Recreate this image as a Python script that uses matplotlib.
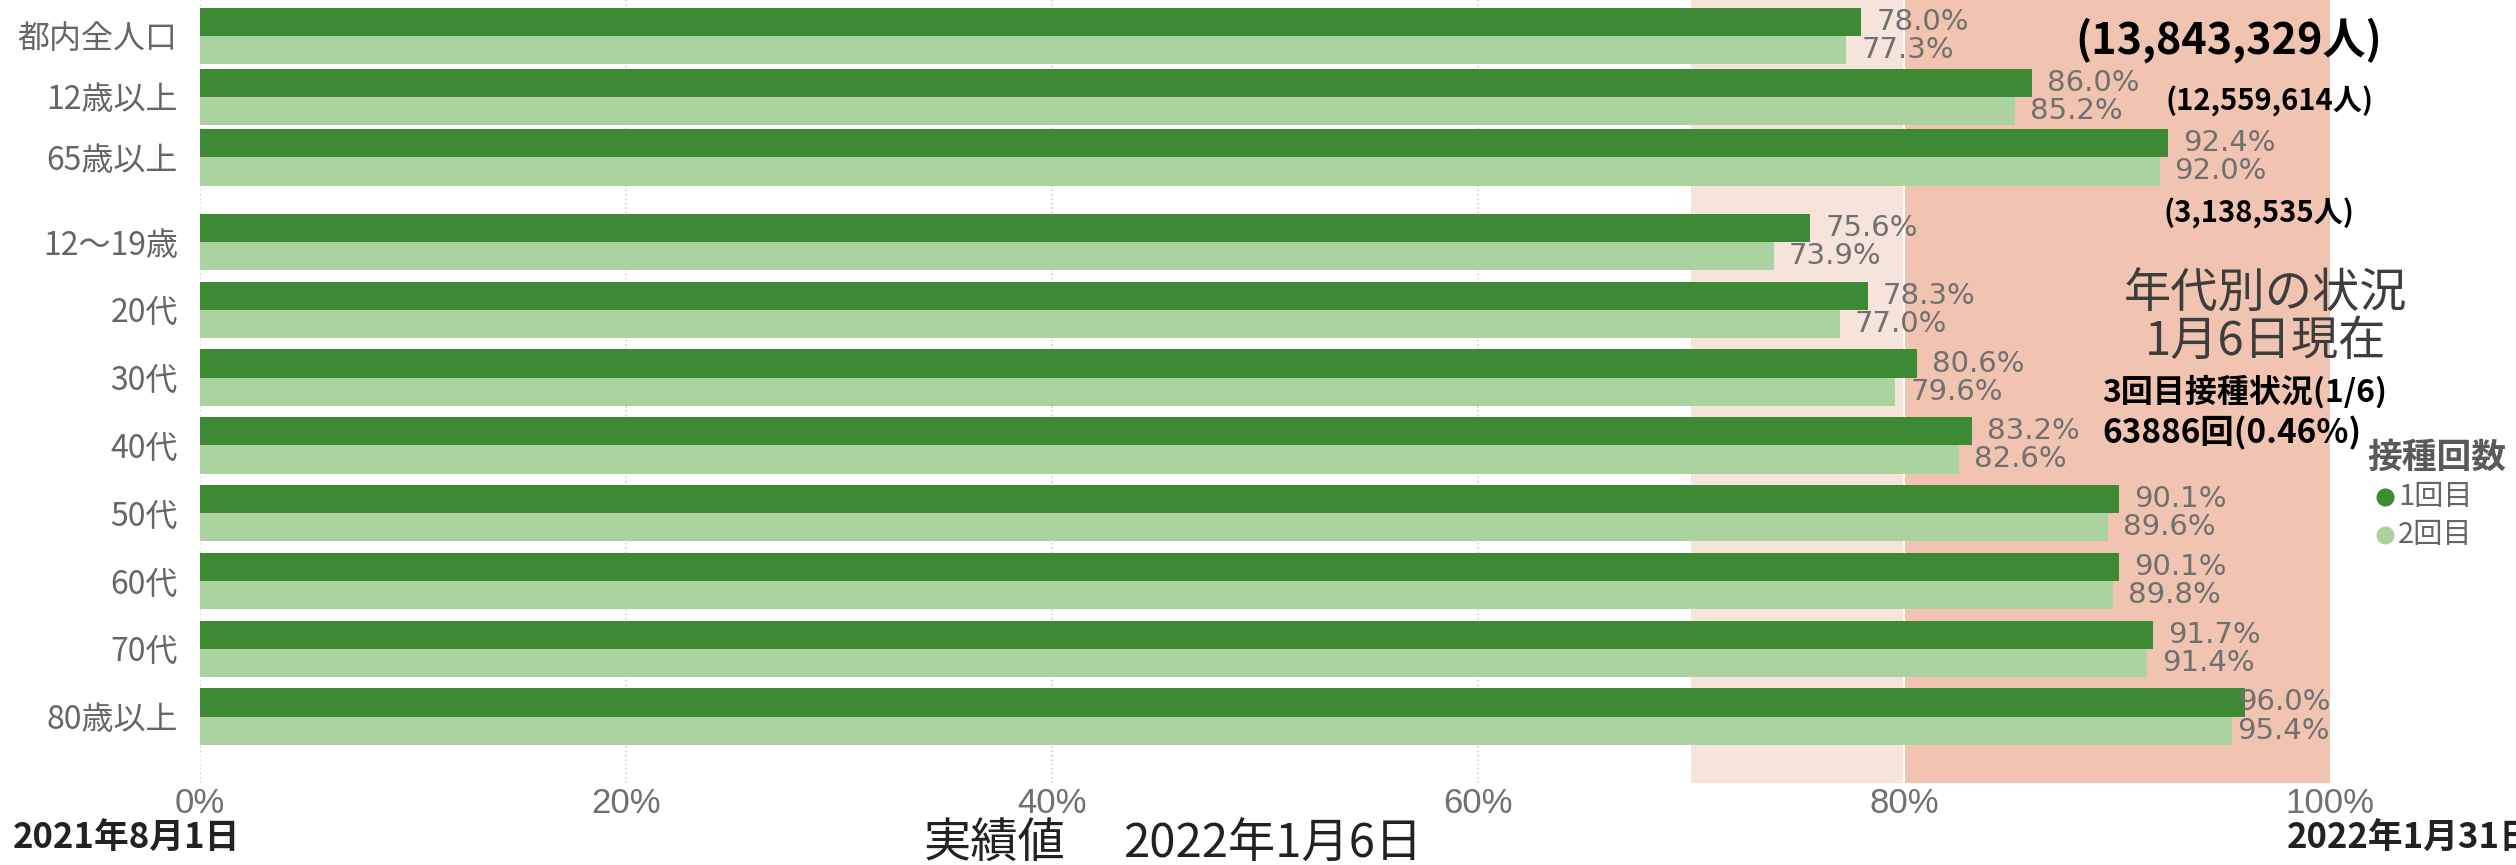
import matplotlib.pyplot as plt
import numpy as np

plt.rcParams['font.family'] = ['Noto Sans CJK JP', 'DejaVu Sans']

# overall (top block) and by age (bottom block)
top_cats = ['都内全人口', '12歳以上', '65歳以上']
top_dose1 = [78.0, 86.0, 92.4]
top_dose2 = [77.3, 85.2, 92.0]

age_cats = ['12〜19歳', '20代', '30代', '40代', '50代', '60代', '70代', '80歳以上']
age_dose1 = [75.6, 78.3, 80.6, 83.2, 90.1, 90.1, 91.7, 96.0]
age_dose2 = [73.9, 77.0, 79.6, 82.6, 89.6, 89.8, 91.4, 95.4]

x_ticks = [0, 20, 40, 60, 80, 100]
pop_notes = ['(13,843,329人)', '(12,559,614人)', '(3,138,535人)']

DARK = '#3E8A34'
LIGHT = '#ABD3A0'
PINK = '#F6E3DA'
SALMON = '#F0C4B1'
GREY = '#707070'

W, H = 2516, 865
fig = plt.figure(figsize=(W / 100, H / 100), dpi=100)
ax = fig.add_axes([200 / W, 1 - 783 / H, 2130 / W, 783 / H])

# group centres: top block is a bit tighter than the age block
y_top = np.arange(len(top_cats)) * 0.896
y_age = 3.04 + np.arange(len(age_cats))
ypos = np.concatenate([y_top, y_age])
cats = top_cats + age_cats
d1 = np.array(top_dose1 + age_dose1)
d2 = np.array(top_dose2 + age_dose2)
bh = 0.415

ax.axvspan(70, 80, color=PINK, zorder=0, lw=0)
ax.axvspan(80, 100, color=SALMON, zorder=0, lw=0)
for t in x_ticks:
    ax.axvline(t, color='#cfcfcf', ls=':', lw=1.2, zorder=0.5)
ax.axvline(80, color='white', lw=1.5, zorder=0.6)

ax.barh(ypos - bh / 2, d1, height=bh, color=DARK, zorder=2)
ax.barh(ypos + bh / 2, d2, height=bh, color=LIGHT, zorder=2)

for y, a, b in zip(ypos, d1, d2):
    for v, yy in ((a, y - bh / 2), (b, y + bh / 2)):
        txt = f'{v:.1f}%'
        # labels that would run past 100% are pulled back inside
        if v + 0.7 + 5.0 > 100:
            ax.text(100, yy, txt, ha='right', va='center', fontsize=21,
                    color=GREY, family='DejaVu Sans', zorder=3)
        else:
            ax.text(v + 0.7, yy, txt, ha='left', va='center', fontsize=21,
                    color=GREY, family='DejaVu Sans', zorder=3)

ax.set_xlim(0, 100)
ax.set_ylim(11.02, -0.53)
ax.set_xticks(x_ticks, [f'{t}%' for t in x_ticks])
ax.set_yticks(ypos, cats)
ax.tick_params(axis='x', length=0, pad=3, labelsize=25, labelcolor=GREY)
ax.tick_params(axis='y', length=0, pad=16, labelsize=23, labelcolor='#666666')
for lab in ax.get_xticklabels():
    lab.set_family('Liberation Sans')
for s in ax.spines.values():
    s.set_visible(False)


def ftext(x, y, s, **kw):
    fig.text(x / W, 1 - y / H, s, **kw)


# notes in the salmon area
ftext(2075, 40, pop_notes[0], fontsize=31, weight='bold', va='center', color='black')
ftext(2166, 101, pop_notes[1], fontsize=21, weight='bold', va='center', color='black')
ftext(2163, 213, pop_notes[2], fontsize=21, weight='bold', va='center', color='black')
ftext(2266, 318, '年代別の状況\n1月6日現在', fontsize=34, ha='center', va='center',
      multialignment='center', linespacing=0.95, color='#3d3d3d')
ftext(2102, 392, '3回目接種状況(1/6)', fontsize=23, weight='bold', va='center', color='black')
ftext(2102, 433, '63886回(0.46%)', fontsize=24, weight='bold', va='center', color='black')

# legend
ftext(2367, 457, '接種回数', fontsize=25, weight='bold', va='center', color='#5a5a5a')
fig.lines.append(plt.Line2D([2385 / W], [1 - 497 / H], marker='o', ms=12, color=DARK,
                            transform=fig.transFigure))
fig.lines.append(plt.Line2D([2385 / W], [1 - 535 / H], marker='o', ms=12, color=LIGHT,
                            transform=fig.transFigure))
ftext(2398, 497, '1回目', fontsize=21, va='center', color='#666666')
ftext(2398, 535, '2回目', fontsize=21, va='center', color='#666666')

# date strip at the bottom
ftext(13, 838, '2021年8月1日', fontsize=25, weight='bold', va='center', color='#222222')
ftext(924, 845, '実績値', fontsize=34, va='center', color='#222222')
ftext(1123, 845, '2022年1月6日', fontsize=34, va='center', color='#222222')
ftext(2287, 838, '2022年1月31日', fontsize=25, weight='bold', va='center', color='#222222')

fig.savefig('out.png', dpi=100)
